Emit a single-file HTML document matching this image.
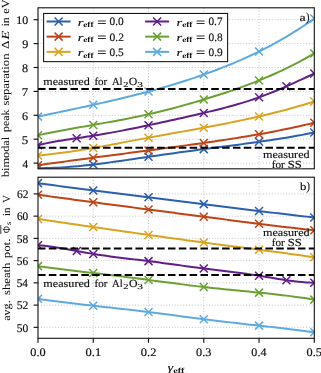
<!DOCTYPE html><html><head><meta charset="utf-8"><style>html,body{margin:0;padding:0;background:#fff;}svg{display:block;will-change:transform;}text{text-rendering:geometricPrecision;font-family:"Liberation Serif",serif;fill:#111;stroke:#111;stroke-width:0.16px;} g text{stroke-width:inherit}</style></head><body>
<svg width="321" height="373" viewBox="0 0 321 373">
<rect width="321" height="373" fill="#fff"/>
<defs><clipPath id="ct"><rect x="38.00" y="7.80" width="276.30" height="161.00"/></clipPath><clipPath id="cb"><rect x="38.00" y="177.20" width="276.30" height="161.10"/></clipPath></defs>
<g clip-path="url(#ct)">
<line x1="93.26" y1="7.80" x2="93.26" y2="168.80" stroke="#c2c2c2" stroke-width="1" stroke-dasharray="1 1.85" fill="none"/>
<line x1="148.52" y1="7.80" x2="148.52" y2="168.80" stroke="#c2c2c2" stroke-width="1" stroke-dasharray="1 1.85" fill="none"/>
<line x1="203.78" y1="7.80" x2="203.78" y2="168.80" stroke="#c2c2c2" stroke-width="1" stroke-dasharray="1 1.85" fill="none"/>
<line x1="259.04" y1="7.80" x2="259.04" y2="168.80" stroke="#c2c2c2" stroke-width="1" stroke-dasharray="1 1.85" fill="none"/>
<line x1="38.00" y1="163.10" x2="314.30" y2="163.10" stroke="#c2c2c2" stroke-width="1" stroke-dasharray="1 1.85" fill="none"/>
<line x1="38.00" y1="139.20" x2="314.30" y2="139.20" stroke="#c2c2c2" stroke-width="1" stroke-dasharray="1 1.85" fill="none"/>
<line x1="38.00" y1="115.30" x2="314.30" y2="115.30" stroke="#c2c2c2" stroke-width="1" stroke-dasharray="1 1.85" fill="none"/>
<line x1="38.00" y1="91.40" x2="314.30" y2="91.40" stroke="#c2c2c2" stroke-width="1" stroke-dasharray="1 1.85" fill="none"/>
<line x1="38.00" y1="67.50" x2="314.30" y2="67.50" stroke="#c2c2c2" stroke-width="1" stroke-dasharray="1 1.85" fill="none"/>
<line x1="38.00" y1="43.60" x2="314.30" y2="43.60" stroke="#c2c2c2" stroke-width="1" stroke-dasharray="1 1.85" fill="none"/>
<line x1="38.00" y1="19.70" x2="314.30" y2="19.70" stroke="#c2c2c2" stroke-width="1" stroke-dasharray="1 1.85" fill="none"/>
<path d="M38.00 168.22 L42.00 168.19 L46.01 168.11 L50.01 168.00 L54.02 167.84 L58.02 167.64 L62.03 167.41 L66.03 167.14 L70.03 166.84 L74.04 166.50 L78.04 166.14 L82.05 165.75 L86.05 165.33 L90.06 164.89 L94.06 164.43 L98.07 163.94 L102.07 163.44 L106.07 162.92 L110.08 162.38 L114.08 161.83 L118.09 161.27 L122.09 160.70 L126.10 160.12 L130.10 159.54 L134.10 158.95 L138.11 158.36 L142.11 157.76 L146.12 157.17 L150.12 156.59 L154.13 156.00 L158.13 155.42 L162.13 154.85 L166.14 154.27 L170.14 153.71 L174.15 153.14 L178.15 152.59 L182.16 152.03 L186.16 151.48 L190.17 150.94 L194.17 150.40 L198.17 149.86 L202.18 149.33 L206.18 148.80 L210.19 148.28 L214.19 147.76 L218.20 147.25 L222.20 146.73 L226.20 146.21 L230.21 145.69 L234.21 145.17 L238.22 144.65 L242.22 144.12 L246.23 143.58 L250.23 143.04 L254.23 142.49 L258.24 141.93 L262.24 141.36 L266.25 140.78 L270.25 140.19 L274.26 139.58 L278.26 138.96 L282.27 138.32 L286.27 137.67 L290.27 137.00 L294.28 136.30 L298.28 135.59 L302.29 134.86 L306.29 134.10 L310.30 133.32 L314.30 132.52" stroke="#2d5fab" stroke-width="2.00" fill="none" stroke-linejoin="round"/>
<path d="M34.00 164.22L42.00 172.22M34.00 172.22L42.00 164.22" stroke="#2d5fab" stroke-width="1.50" fill="none"/>
<path d="M89.26 160.52L97.26 168.52M89.26 168.52L97.26 160.52" stroke="#2d5fab" stroke-width="1.50" fill="none"/>
<path d="M144.52 152.82L152.52 160.82M144.52 160.82L152.52 152.82" stroke="#2d5fab" stroke-width="1.50" fill="none"/>
<path d="M199.78 145.12L207.78 153.12M199.78 153.12L207.78 145.12" stroke="#2d5fab" stroke-width="1.50" fill="none"/>
<path d="M255.04 137.82L263.04 145.82M255.04 145.82L263.04 137.82" stroke="#2d5fab" stroke-width="1.50" fill="none"/>
<path d="M310.30 128.52L318.30 136.52M310.30 136.52L318.30 128.52" stroke="#2d5fab" stroke-width="1.50" fill="none"/>
<path d="M38.00 165.22 L42.00 164.66 L46.01 164.11 L50.01 163.56 L54.02 163.01 L58.02 162.46 L62.03 161.92 L66.03 161.37 L70.03 160.83 L74.04 160.29 L78.04 159.75 L82.05 159.22 L86.05 158.68 L90.06 158.15 L94.06 157.61 L98.07 157.08 L102.07 156.55 L106.07 156.02 L110.08 155.49 L114.08 154.96 L118.09 154.43 L122.09 153.90 L126.10 153.38 L130.10 152.85 L134.10 152.32 L138.11 151.79 L142.11 151.27 L146.12 150.74 L150.12 150.21 L154.13 149.68 L158.13 149.15 L162.13 148.62 L166.14 148.09 L170.14 147.55 L174.15 147.01 L178.15 146.47 L182.16 145.93 L186.16 145.38 L190.17 144.83 L194.17 144.27 L198.17 143.71 L202.18 143.15 L206.18 142.58 L210.19 142.00 L214.19 141.42 L218.20 140.82 L222.20 140.22 L226.20 139.62 L230.21 139.00 L234.21 138.37 L238.22 137.73 L242.22 137.09 L246.23 136.42 L250.23 135.75 L254.23 135.06 L258.24 134.36 L262.24 133.65 L266.25 132.92 L270.25 132.17 L274.26 131.41 L278.26 130.63 L282.27 129.83 L286.27 129.01 L290.27 128.17 L294.28 127.32 L298.28 126.44 L302.29 125.55 L306.29 124.63 L310.30 123.68 L314.30 122.72" stroke="#bc4418" stroke-width="2.00" fill="none" stroke-linejoin="round"/>
<path d="M34.00 161.22L42.00 169.22M34.00 169.22L42.00 161.22" stroke="#bc4418" stroke-width="1.50" fill="none"/>
<path d="M89.26 153.72L97.26 161.72M89.26 161.72L97.26 153.72" stroke="#bc4418" stroke-width="1.50" fill="none"/>
<path d="M144.52 146.42L152.52 154.42M144.52 154.42L152.52 146.42" stroke="#bc4418" stroke-width="1.50" fill="none"/>
<path d="M199.78 138.92L207.78 146.92M199.78 146.92L207.78 138.92" stroke="#bc4418" stroke-width="1.50" fill="none"/>
<path d="M255.04 130.22L263.04 138.22M255.04 138.22L263.04 130.22" stroke="#bc4418" stroke-width="1.50" fill="none"/>
<path d="M310.30 118.72L318.30 126.72M310.30 126.72L318.30 118.72" stroke="#bc4418" stroke-width="1.50" fill="none"/>
<path d="M38.00 155.52 L42.00 155.15 L46.01 154.74 L50.01 154.30 L54.02 153.83 L58.02 153.33 L62.03 152.81 L66.03 152.25 L70.03 151.68 L74.04 151.07 L78.04 150.45 L82.05 149.81 L86.05 149.15 L90.06 148.47 L94.06 147.78 L98.07 147.07 L102.07 146.36 L106.07 145.63 L110.08 144.89 L114.08 144.15 L118.09 143.40 L122.09 142.64 L126.10 141.88 L130.10 141.13 L134.10 140.37 L138.11 139.61 L142.11 138.86 L146.12 138.11 L150.12 137.38 L154.13 136.64 L158.13 135.92 L162.13 135.20 L166.14 134.48 L170.14 133.76 L174.15 133.05 L178.15 132.34 L182.16 131.63 L186.16 130.91 L190.17 130.20 L194.17 129.47 L198.17 128.75 L202.18 128.02 L206.18 127.28 L210.19 126.53 L214.19 125.77 L218.20 125.00 L222.20 124.22 L226.20 123.43 L230.21 122.63 L234.21 121.82 L238.22 120.99 L242.22 120.14 L246.23 119.28 L250.23 118.41 L254.23 117.52 L258.24 116.60 L262.24 115.67 L266.25 114.73 L270.25 113.76 L274.26 112.77 L278.26 111.75 L282.27 110.72 L286.27 109.66 L290.27 108.58 L294.28 107.47 L298.28 106.33 L302.29 105.17 L306.29 103.98 L310.30 102.77 L314.30 101.52" stroke="#d9a423" stroke-width="2.00" fill="none" stroke-linejoin="round"/>
<path d="M34.00 151.52L42.00 159.52M34.00 159.52L42.00 151.52" stroke="#d9a423" stroke-width="1.50" fill="none"/>
<path d="M89.26 143.92L97.26 151.92M89.26 151.92L97.26 143.92" stroke="#d9a423" stroke-width="1.50" fill="none"/>
<path d="M144.52 133.67L152.52 141.67M144.52 141.67L152.52 133.67" stroke="#d9a423" stroke-width="1.50" fill="none"/>
<path d="M199.78 123.72L207.78 131.72M199.78 131.72L207.78 123.72" stroke="#d9a423" stroke-width="1.50" fill="none"/>
<path d="M255.04 112.42L263.04 120.42M255.04 120.42L263.04 112.42" stroke="#d9a423" stroke-width="1.50" fill="none"/>
<path d="M310.30 97.52L318.30 105.52M310.30 105.52L318.30 97.52" stroke="#d9a423" stroke-width="1.50" fill="none"/>
<path d="M38.00 145.22 L42.00 144.27 L46.01 143.39 L50.01 142.57 L54.02 141.81 L58.02 141.10 L62.03 140.43 L66.03 139.79 L70.03 139.17 L74.04 138.58 L78.04 137.99 L82.05 137.41 L86.05 136.82 L90.06 136.22 L94.06 135.59 L98.07 134.95 L102.07 134.28 L106.07 133.58 L110.08 132.87 L114.08 132.13 L118.09 131.38 L122.09 130.61 L126.10 129.83 L130.10 129.03 L134.10 128.22 L138.11 127.40 L142.11 126.56 L146.12 125.73 L150.12 124.88 L154.13 124.03 L158.13 123.17 L162.13 122.31 L166.14 121.44 L170.14 120.57 L174.15 119.69 L178.15 118.80 L182.16 117.90 L186.16 117.00 L190.17 116.09 L194.17 115.16 L198.17 114.24 L202.18 113.30 L206.18 112.35 L210.19 111.39 L214.19 110.42 L218.20 109.42 L222.20 108.41 L226.20 107.37 L230.21 106.29 L234.21 105.19 L238.22 104.04 L242.22 102.85 L246.23 101.62 L250.23 100.34 L254.23 99.00 L258.24 97.61 L262.24 96.15 L266.25 94.64 L270.25 93.07 L274.26 91.46 L278.26 89.80 L282.27 88.10 L286.27 86.36 L290.27 84.59 L294.28 82.79 L298.28 80.96 L302.29 79.12 L306.29 77.26 L310.30 75.40 L314.30 73.52" stroke="#611f87" stroke-width="2.00" fill="none" stroke-linejoin="round"/>
<path d="M34.00 141.22L42.00 149.22M34.00 149.22L42.00 141.22" stroke="#611f87" stroke-width="1.50" fill="none"/>
<path d="M89.26 131.72L97.26 139.72M89.26 139.72L97.26 131.72" stroke="#611f87" stroke-width="1.50" fill="none"/>
<path d="M144.52 121.22L152.52 129.22M144.52 129.22L152.52 121.22" stroke="#611f87" stroke-width="1.50" fill="none"/>
<path d="M199.78 108.92L207.78 116.92M199.78 116.92L207.78 108.92" stroke="#611f87" stroke-width="1.50" fill="none"/>
<path d="M255.04 93.32L263.04 101.32M255.04 101.32L263.04 93.32" stroke="#611f87" stroke-width="1.50" fill="none"/>
<path d="M310.30 69.52L318.30 77.52M310.30 77.52L318.30 69.52" stroke="#611f87" stroke-width="1.50" fill="none"/>
<path d="M72.60 134.20L80.60 142.20M72.60 142.20L80.60 134.20" stroke="#611f87" stroke-width="1.50" fill="none"/>
<path d="M282.40 82.30L290.40 90.30M282.40 90.30L290.40 82.30" stroke="#611f87" stroke-width="1.50" fill="none"/>
<path d="M38.00 135.22 L42.00 134.39 L46.01 133.57 L50.01 132.78 L54.02 132.00 L58.02 131.24 L62.03 130.49 L66.03 129.76 L70.03 129.03 L74.04 128.31 L78.04 127.60 L82.05 126.89 L86.05 126.19 L90.06 125.48 L94.06 124.78 L98.07 124.07 L102.07 123.36 L106.07 122.64 L110.08 121.92 L114.08 121.19 L118.09 120.44 L122.09 119.68 L126.10 118.91 L130.10 118.12 L134.10 117.31 L138.11 116.48 L142.11 115.63 L146.12 114.76 L150.12 113.86 L154.13 112.93 L158.13 111.98 L162.13 111.00 L166.14 110.00 L170.14 108.98 L174.15 107.93 L178.15 106.86 L182.16 105.77 L186.16 104.65 L190.17 103.52 L194.17 102.37 L198.17 101.19 L202.18 100.00 L206.18 98.79 L210.19 97.56 L214.19 96.32 L218.20 95.05 L222.20 93.75 L226.20 92.43 L230.21 91.08 L234.21 89.71 L238.22 88.30 L242.22 86.86 L246.23 85.39 L250.23 83.88 L254.23 82.33 L258.24 80.74 L262.24 79.11 L266.25 77.44 L270.25 75.73 L274.26 73.97 L278.26 72.16 L282.27 70.30 L286.27 68.39 L290.27 66.42 L294.28 64.40 L298.28 62.33 L302.29 60.19 L306.29 58.00 L310.30 55.74 L314.30 53.42" stroke="#6ca034" stroke-width="2.00" fill="none" stroke-linejoin="round"/>
<path d="M34.00 131.22L42.00 139.22M34.00 139.22L42.00 131.22" stroke="#6ca034" stroke-width="1.50" fill="none"/>
<path d="M89.26 120.92L97.26 128.92M89.26 128.92L97.26 120.92" stroke="#6ca034" stroke-width="1.50" fill="none"/>
<path d="M144.52 110.22L152.52 118.22M144.52 118.22L152.52 110.22" stroke="#6ca034" stroke-width="1.50" fill="none"/>
<path d="M199.78 95.52L207.78 103.52M199.78 103.52L207.78 95.52" stroke="#6ca034" stroke-width="1.50" fill="none"/>
<path d="M255.04 76.42L263.04 84.42M255.04 84.42L263.04 76.42" stroke="#6ca034" stroke-width="1.50" fill="none"/>
<path d="M310.30 49.42L318.30 57.42M310.30 57.42L318.30 49.42" stroke="#6ca034" stroke-width="1.50" fill="none"/>
<path d="M38.00 116.62 L42.00 115.77 L46.01 114.92 L50.01 114.07 L54.02 113.22 L58.02 112.37 L62.03 111.53 L66.03 110.68 L70.03 109.83 L74.04 108.98 L78.04 108.12 L82.05 107.26 L86.05 106.40 L90.06 105.52 L94.06 104.64 L98.07 103.76 L102.07 102.86 L106.07 101.95 L110.08 101.04 L114.08 100.11 L118.09 99.17 L122.09 98.21 L126.10 97.24 L130.10 96.26 L134.10 95.26 L138.11 94.25 L142.11 93.21 L146.12 92.16 L150.12 91.09 L154.13 90.00 L158.13 88.89 L162.13 87.75 L166.14 86.60 L170.14 85.42 L174.15 84.21 L178.15 82.99 L182.16 81.74 L186.16 80.46 L190.17 79.16 L194.17 77.83 L198.17 76.47 L202.18 75.08 L206.18 73.67 L210.19 72.22 L214.19 70.75 L218.20 69.24 L222.20 67.69 L226.20 66.11 L230.21 64.49 L234.21 62.82 L238.22 61.12 L242.22 59.37 L246.23 57.58 L250.23 55.74 L254.23 53.85 L258.24 51.91 L262.24 49.92 L266.25 47.88 L270.25 45.78 L274.26 43.62 L278.26 41.40 L282.27 39.13 L286.27 36.79 L290.27 34.38 L294.28 31.91 L298.28 29.38 L302.29 26.77 L306.29 24.09 L310.30 21.34 L314.30 18.52" stroke="#5fa9e0" stroke-width="2.00" fill="none" stroke-linejoin="round"/>
<path d="M34.00 112.62L42.00 120.62M34.00 120.62L42.00 112.62" stroke="#5fa9e0" stroke-width="1.50" fill="none"/>
<path d="M89.26 100.82L97.26 108.82M89.26 108.82L97.26 100.82" stroke="#5fa9e0" stroke-width="1.50" fill="none"/>
<path d="M144.52 87.52L152.52 95.52M144.52 95.52L152.52 87.52" stroke="#5fa9e0" stroke-width="1.50" fill="none"/>
<path d="M199.78 70.52L207.78 78.52M199.78 78.52L207.78 70.52" stroke="#5fa9e0" stroke-width="1.50" fill="none"/>
<path d="M255.04 47.52L263.04 55.52M255.04 55.52L263.04 47.52" stroke="#5fa9e0" stroke-width="1.50" fill="none"/>
<path d="M310.30 14.52L318.30 22.52M310.30 22.52L318.30 14.52" stroke="#5fa9e0" stroke-width="1.50" fill="none"/>
<line x1="38.00" y1="88.90" x2="314.30" y2="88.90" stroke="#000" stroke-width="2" stroke-dasharray="7.55 3.28"/>
<line x1="38.00" y1="147.85" x2="314.30" y2="147.85" stroke="#000" stroke-width="2" stroke-dasharray="7.55 3.28"/>
</g>
<g clip-path="url(#cb)">
<line x1="93.26" y1="177.20" x2="93.26" y2="338.30" stroke="#c2c2c2" stroke-width="1" stroke-dasharray="1 1.85" fill="none"/>
<line x1="148.52" y1="177.20" x2="148.52" y2="338.30" stroke="#c2c2c2" stroke-width="1" stroke-dasharray="1 1.85" fill="none"/>
<line x1="203.78" y1="177.20" x2="203.78" y2="338.30" stroke="#c2c2c2" stroke-width="1" stroke-dasharray="1 1.85" fill="none"/>
<line x1="259.04" y1="177.20" x2="259.04" y2="338.30" stroke="#c2c2c2" stroke-width="1" stroke-dasharray="1 1.85" fill="none"/>
<line x1="38.00" y1="327.34" x2="314.30" y2="327.34" stroke="#c2c2c2" stroke-width="1" stroke-dasharray="1 1.85" fill="none"/>
<line x1="38.00" y1="305.10" x2="314.30" y2="305.10" stroke="#c2c2c2" stroke-width="1" stroke-dasharray="1 1.85" fill="none"/>
<line x1="38.00" y1="282.86" x2="314.30" y2="282.86" stroke="#c2c2c2" stroke-width="1" stroke-dasharray="1 1.85" fill="none"/>
<line x1="38.00" y1="260.62" x2="314.30" y2="260.62" stroke="#c2c2c2" stroke-width="1" stroke-dasharray="1 1.85" fill="none"/>
<line x1="38.00" y1="238.38" x2="314.30" y2="238.38" stroke="#c2c2c2" stroke-width="1" stroke-dasharray="1 1.85" fill="none"/>
<line x1="38.00" y1="216.14" x2="314.30" y2="216.14" stroke="#c2c2c2" stroke-width="1" stroke-dasharray="1 1.85" fill="none"/>
<line x1="38.00" y1="193.90" x2="314.30" y2="193.90" stroke="#c2c2c2" stroke-width="1" stroke-dasharray="1 1.85" fill="none"/>
<path d="M38.00 183.12 L42.00 183.68 L46.01 184.24 L50.01 184.79 L54.02 185.33 L58.02 185.87 L62.03 186.40 L66.03 186.93 L70.03 187.46 L74.04 187.98 L78.04 188.49 L82.05 189.00 L86.05 189.51 L90.06 190.02 L94.06 190.52 L98.07 191.02 L102.07 191.52 L106.07 192.01 L110.08 192.51 L114.08 193.00 L118.09 193.49 L122.09 193.98 L126.10 194.47 L130.10 194.96 L134.10 195.45 L138.11 195.94 L142.11 196.43 L146.12 196.92 L150.12 197.42 L154.13 197.91 L158.13 198.41 L162.13 198.90 L166.14 199.40 L170.14 199.90 L174.15 200.40 L178.15 200.90 L182.16 201.40 L186.16 201.91 L190.17 202.41 L194.17 202.91 L198.17 203.41 L202.18 203.92 L206.18 204.42 L210.19 204.93 L214.19 205.43 L218.20 205.93 L222.20 206.44 L226.20 206.94 L230.21 207.44 L234.21 207.94 L238.22 208.44 L242.22 208.94 L246.23 209.44 L250.23 209.94 L254.23 210.43 L258.24 210.92 L262.24 211.41 L266.25 211.90 L270.25 212.39 L274.26 212.87 L278.26 213.35 L282.27 213.83 L286.27 214.30 L290.27 214.77 L294.28 215.24 L298.28 215.70 L302.29 216.16 L306.29 216.62 L310.30 217.07 L314.30 217.52" stroke="#2d5fab" stroke-width="2.00" fill="none" stroke-linejoin="round"/>
<path d="M34.00 179.12L42.00 187.12M34.00 187.12L42.00 179.12" stroke="#2d5fab" stroke-width="1.50" fill="none"/>
<path d="M89.26 186.42L97.26 194.42M89.26 194.42L97.26 186.42" stroke="#2d5fab" stroke-width="1.50" fill="none"/>
<path d="M144.52 193.22L152.52 201.22M144.52 201.22L152.52 193.22" stroke="#2d5fab" stroke-width="1.50" fill="none"/>
<path d="M199.78 200.12L207.78 208.12M199.78 208.12L207.78 200.12" stroke="#2d5fab" stroke-width="1.50" fill="none"/>
<path d="M255.04 207.02L263.04 215.02M255.04 215.02L263.04 207.02" stroke="#2d5fab" stroke-width="1.50" fill="none"/>
<path d="M310.30 213.52L318.30 221.52M310.30 221.52L318.30 213.52" stroke="#2d5fab" stroke-width="1.50" fill="none"/>
<path d="M38.00 194.72 L42.00 195.27 L46.01 195.82 L50.01 196.37 L54.02 196.92 L58.02 197.47 L62.03 198.01 L66.03 198.56 L70.03 199.10 L74.04 199.64 L78.04 200.18 L82.05 200.72 L86.05 201.26 L90.06 201.79 L94.06 202.33 L98.07 202.86 L102.07 203.39 L106.07 203.93 L110.08 204.46 L114.08 204.99 L118.09 205.52 L122.09 206.05 L126.10 206.58 L130.10 207.10 L134.10 207.63 L138.11 208.16 L142.11 208.68 L146.12 209.21 L150.12 209.73 L154.13 210.25 L158.13 210.78 L162.13 211.30 L166.14 211.82 L170.14 212.34 L174.15 212.86 L178.15 213.39 L182.16 213.91 L186.16 214.43 L190.17 214.95 L194.17 215.47 L198.17 215.99 L202.18 216.51 L206.18 217.03 L210.19 217.55 L214.19 218.07 L218.20 218.59 L222.20 219.11 L226.20 219.63 L230.21 220.15 L234.21 220.67 L238.22 221.18 L242.22 221.69 L246.23 222.20 L250.23 222.71 L254.23 223.22 L258.24 223.72 L262.24 224.22 L266.25 224.72 L270.25 225.21 L274.26 225.70 L278.26 226.18 L282.27 226.66 L286.27 227.14 L290.27 227.61 L294.28 228.07 L298.28 228.53 L302.29 228.99 L306.29 229.44 L310.30 229.88 L314.30 230.32" stroke="#bc4418" stroke-width="2.00" fill="none" stroke-linejoin="round"/>
<path d="M34.00 190.72L42.00 198.72M34.00 198.72L42.00 190.72" stroke="#bc4418" stroke-width="1.50" fill="none"/>
<path d="M89.26 198.22L97.26 206.22M89.26 206.22L97.26 198.22" stroke="#bc4418" stroke-width="1.50" fill="none"/>
<path d="M144.52 205.52L152.52 213.52M144.52 213.52L152.52 205.52" stroke="#bc4418" stroke-width="1.50" fill="none"/>
<path d="M199.78 212.72L207.78 220.72M199.78 220.72L207.78 212.72" stroke="#bc4418" stroke-width="1.50" fill="none"/>
<path d="M255.04 219.82L263.04 227.82M255.04 227.82L263.04 219.82" stroke="#bc4418" stroke-width="1.50" fill="none"/>
<path d="M310.30 226.32L318.30 234.32M310.30 234.32L318.30 226.32" stroke="#bc4418" stroke-width="1.50" fill="none"/>
<path d="M38.00 219.02 L42.00 219.60 L46.01 220.18 L50.01 220.76 L54.02 221.34 L58.02 221.92 L62.03 222.50 L66.03 223.08 L70.03 223.66 L74.04 224.24 L78.04 224.82 L82.05 225.40 L86.05 225.98 L90.06 226.56 L94.06 227.14 L98.07 227.71 L102.07 228.29 L106.07 228.87 L110.08 229.44 L114.08 230.02 L118.09 230.59 L122.09 231.16 L126.10 231.74 L130.10 232.31 L134.10 232.88 L138.11 233.45 L142.11 234.01 L146.12 234.58 L150.12 235.15 L154.13 235.71 L158.13 236.27 L162.13 236.83 L166.14 237.39 L170.14 237.95 L174.15 238.50 L178.15 239.05 L182.16 239.60 L186.16 240.15 L190.17 240.69 L194.17 241.23 L198.17 241.77 L202.18 242.31 L206.18 242.84 L210.19 243.37 L214.19 243.89 L218.20 244.42 L222.20 244.94 L226.20 245.46 L230.21 245.98 L234.21 246.50 L238.22 247.02 L242.22 247.53 L246.23 248.05 L250.23 248.57 L254.23 249.09 L258.24 249.62 L262.24 250.14 L266.25 250.67 L270.25 251.20 L274.26 251.73 L278.26 252.27 L282.27 252.81 L286.27 253.35 L290.27 253.90 L294.28 254.46 L298.28 255.02 L302.29 255.58 L306.29 256.15 L310.30 256.73 L314.30 257.32" stroke="#d9a423" stroke-width="2.00" fill="none" stroke-linejoin="round"/>
<path d="M34.00 215.02L42.00 223.02M34.00 223.02L42.00 215.02" stroke="#d9a423" stroke-width="1.50" fill="none"/>
<path d="M89.26 223.02L97.26 231.02M89.26 231.02L97.26 223.02" stroke="#d9a423" stroke-width="1.50" fill="none"/>
<path d="M144.52 230.92L152.52 238.92M144.52 238.92L152.52 230.92" stroke="#d9a423" stroke-width="1.50" fill="none"/>
<path d="M199.78 238.52L207.78 246.52M199.78 246.52L207.78 238.52" stroke="#d9a423" stroke-width="1.50" fill="none"/>
<path d="M255.04 245.72L263.04 253.72M255.04 253.72L263.04 245.72" stroke="#d9a423" stroke-width="1.50" fill="none"/>
<path d="M310.30 253.32L318.30 261.32M310.30 261.32L318.30 253.32" stroke="#d9a423" stroke-width="1.50" fill="none"/>
<path d="M38.00 245.22 L42.00 245.58 L46.01 246.02 L50.01 246.52 L54.02 247.09 L58.02 247.70 L62.03 248.36 L66.03 249.05 L70.03 249.76 L74.04 250.49 L78.04 251.23 L82.05 251.96 L86.05 252.68 L90.06 253.38 L94.06 254.05 L98.07 254.69 L102.07 255.29 L106.07 255.86 L110.08 256.41 L114.08 256.94 L118.09 257.45 L122.09 257.94 L126.10 258.43 L130.10 258.90 L134.10 259.38 L138.11 259.85 L142.11 260.33 L146.12 260.82 L150.12 261.32 L154.13 261.83 L158.13 262.36 L162.13 262.89 L166.14 263.43 L170.14 263.98 L174.15 264.53 L178.15 265.08 L182.16 265.63 L186.16 266.18 L190.17 266.73 L194.17 267.26 L198.17 267.79 L202.18 268.32 L206.18 268.82 L210.19 269.32 L214.19 269.81 L218.20 270.30 L222.20 270.78 L226.20 271.27 L230.21 271.76 L234.21 272.26 L238.22 272.77 L242.22 273.29 L246.23 273.83 L250.23 274.39 L254.23 274.98 L258.24 275.59 L262.24 276.24 L266.25 276.90 L270.25 277.58 L274.26 278.25 L278.26 278.92 L282.27 279.57 L286.27 280.18 L290.27 280.75 L294.28 281.27 L298.28 281.73 L302.29 282.12 L306.29 282.42 L310.30 282.62 L314.30 282.72" stroke="#611f87" stroke-width="2.00" fill="none" stroke-linejoin="round"/>
<path d="M34.00 241.22L42.00 249.22M34.00 249.22L42.00 241.22" stroke="#611f87" stroke-width="1.50" fill="none"/>
<path d="M89.26 249.92L97.26 257.92M89.26 257.92L97.26 249.92" stroke="#611f87" stroke-width="1.50" fill="none"/>
<path d="M144.52 257.12L152.52 265.12M144.52 265.12L152.52 257.12" stroke="#611f87" stroke-width="1.50" fill="none"/>
<path d="M199.78 264.52L207.78 272.52M199.78 272.52L207.78 264.52" stroke="#611f87" stroke-width="1.50" fill="none"/>
<path d="M255.04 271.72L263.04 279.72M255.04 279.72L263.04 271.72" stroke="#611f87" stroke-width="1.50" fill="none"/>
<path d="M310.30 278.72L318.30 286.72M310.30 286.72L318.30 278.72" stroke="#611f87" stroke-width="1.50" fill="none"/>
<path d="M72.80 247.00L80.80 255.00M72.80 255.00L80.80 247.00" stroke="#611f87" stroke-width="1.50" fill="none"/>
<path d="M282.40 276.20L290.40 284.20M282.40 284.20L290.40 276.20" stroke="#611f87" stroke-width="1.50" fill="none"/>
<path d="M38.00 266.12 L42.00 266.64 L46.01 267.16 L50.01 267.67 L54.02 268.18 L58.02 268.68 L62.03 269.18 L66.03 269.68 L70.03 270.18 L74.04 270.67 L78.04 271.16 L82.05 271.65 L86.05 272.14 L90.06 272.63 L94.06 273.12 L98.07 273.61 L102.07 274.09 L106.07 274.58 L110.08 275.07 L114.08 275.57 L118.09 276.06 L122.09 276.56 L126.10 277.06 L130.10 277.56 L134.10 278.06 L138.11 278.57 L142.11 279.09 L146.12 279.61 L150.12 280.13 L154.13 280.66 L158.13 281.19 L162.13 281.72 L166.14 282.26 L170.14 282.79 L174.15 283.32 L178.15 283.85 L182.16 284.37 L186.16 284.88 L190.17 285.39 L194.17 285.88 L198.17 286.37 L202.18 286.84 L206.18 287.29 L210.19 287.73 L214.19 288.16 L218.20 288.58 L222.20 288.99 L226.20 289.40 L230.21 289.79 L234.21 290.19 L238.22 290.57 L242.22 290.96 L246.23 291.35 L250.23 291.74 L254.23 292.14 L258.24 292.54 L262.24 292.95 L266.25 293.36 L270.25 293.79 L274.26 294.23 L278.26 294.68 L282.27 295.15 L286.27 295.63 L290.27 296.13 L294.28 296.65 L298.28 297.20 L302.29 297.76 L306.29 298.36 L310.30 298.97 L314.30 299.62" stroke="#6ca034" stroke-width="2.00" fill="none" stroke-linejoin="round"/>
<path d="M34.00 262.12L42.00 270.12M34.00 270.12L42.00 262.12" stroke="#6ca034" stroke-width="1.50" fill="none"/>
<path d="M89.26 269.02L97.26 277.02M89.26 277.02L97.26 269.02" stroke="#6ca034" stroke-width="1.50" fill="none"/>
<path d="M144.52 275.92L152.52 283.92M144.52 283.92L152.52 275.92" stroke="#6ca034" stroke-width="1.50" fill="none"/>
<path d="M199.78 283.02L207.78 291.02M199.78 291.02L207.78 283.02" stroke="#6ca034" stroke-width="1.50" fill="none"/>
<path d="M255.04 288.62L263.04 296.62M255.04 296.62L263.04 288.62" stroke="#6ca034" stroke-width="1.50" fill="none"/>
<path d="M310.30 295.62L318.30 303.62M310.30 303.62L318.30 295.62" stroke="#6ca034" stroke-width="1.50" fill="none"/>
<path d="M38.00 298.82 L42.00 299.39 L46.01 299.95 L50.01 300.50 L54.02 301.03 L58.02 301.55 L62.03 302.06 L66.03 302.55 L70.03 303.04 L74.04 303.52 L78.04 303.99 L82.05 304.45 L86.05 304.91 L90.06 305.36 L94.06 305.81 L98.07 306.26 L102.07 306.70 L106.07 307.14 L110.08 307.58 L114.08 308.03 L118.09 308.47 L122.09 308.92 L126.10 309.37 L130.10 309.83 L134.10 310.29 L138.11 310.76 L142.11 311.24 L146.12 311.72 L150.12 312.22 L154.13 312.72 L158.13 313.24 L162.13 313.76 L166.14 314.28 L170.14 314.81 L174.15 315.34 L178.15 315.87 L182.16 316.41 L186.16 316.94 L190.17 317.47 L194.17 317.99 L198.17 318.51 L202.18 319.02 L206.18 319.52 L210.19 320.01 L214.19 320.50 L218.20 320.98 L222.20 321.45 L226.20 321.92 L230.21 322.38 L234.21 322.84 L238.22 323.29 L242.22 323.74 L246.23 324.19 L250.23 324.64 L254.23 325.08 L258.24 325.53 L262.24 325.98 L266.25 326.43 L270.25 326.88 L274.26 327.34 L278.26 327.79 L282.27 328.26 L286.27 328.73 L290.27 329.20 L294.28 329.68 L298.28 330.17 L302.29 330.67 L306.29 331.18 L310.30 331.69 L314.30 332.22" stroke="#5fa9e0" stroke-width="2.00" fill="none" stroke-linejoin="round"/>
<path d="M34.00 294.82L42.00 302.82M34.00 302.82L42.00 294.82" stroke="#5fa9e0" stroke-width="1.50" fill="none"/>
<path d="M89.26 301.72L97.26 309.72M89.26 309.72L97.26 301.72" stroke="#5fa9e0" stroke-width="1.50" fill="none"/>
<path d="M144.52 308.02L152.52 316.02M144.52 316.02L152.52 308.02" stroke="#5fa9e0" stroke-width="1.50" fill="none"/>
<path d="M199.78 315.22L207.78 323.22M199.78 323.22L207.78 315.22" stroke="#5fa9e0" stroke-width="1.50" fill="none"/>
<path d="M255.04 321.62L263.04 329.62M255.04 329.62L263.04 321.62" stroke="#5fa9e0" stroke-width="1.50" fill="none"/>
<path d="M310.30 328.22L318.30 336.22M310.30 336.22L318.30 328.22" stroke="#5fa9e0" stroke-width="1.50" fill="none"/>
<line x1="38.00" y1="248.50" x2="314.30" y2="248.50" stroke="#000" stroke-width="2" stroke-dasharray="7.55 3.28"/>
<line x1="38.00" y1="275.05" x2="314.30" y2="275.05" stroke="#000" stroke-width="2" stroke-dasharray="7.55 3.28"/>
</g>
<rect x="38.00" y="7.80" width="276.30" height="161.00" stroke="#111" stroke-width="1.1" fill="none"/>
<rect x="38.00" y="177.20" width="276.30" height="161.10" stroke="#111" stroke-width="1.1" fill="none"/>
<line x1="33.60" y1="163.10" x2="38.00" y2="163.10" stroke="#111" stroke-width="1.15"/>
<line x1="33.60" y1="139.20" x2="38.00" y2="139.20" stroke="#111" stroke-width="1.15"/>
<line x1="33.60" y1="115.30" x2="38.00" y2="115.30" stroke="#111" stroke-width="1.15"/>
<line x1="33.60" y1="91.40" x2="38.00" y2="91.40" stroke="#111" stroke-width="1.15"/>
<line x1="33.60" y1="67.50" x2="38.00" y2="67.50" stroke="#111" stroke-width="1.15"/>
<line x1="33.60" y1="43.60" x2="38.00" y2="43.60" stroke="#111" stroke-width="1.15"/>
<line x1="33.60" y1="19.70" x2="38.00" y2="19.70" stroke="#111" stroke-width="1.15"/>
<line x1="33.60" y1="327.34" x2="38.00" y2="327.34" stroke="#111" stroke-width="1.15"/>
<line x1="33.60" y1="305.10" x2="38.00" y2="305.10" stroke="#111" stroke-width="1.15"/>
<line x1="33.60" y1="282.86" x2="38.00" y2="282.86" stroke="#111" stroke-width="1.15"/>
<line x1="33.60" y1="260.62" x2="38.00" y2="260.62" stroke="#111" stroke-width="1.15"/>
<line x1="33.60" y1="238.38" x2="38.00" y2="238.38" stroke="#111" stroke-width="1.15"/>
<line x1="33.60" y1="216.14" x2="38.00" y2="216.14" stroke="#111" stroke-width="1.15"/>
<line x1="33.60" y1="193.90" x2="38.00" y2="193.90" stroke="#111" stroke-width="1.15"/>
<line x1="38.00" y1="338.30" x2="38.00" y2="342.70" stroke="#111" stroke-width="1.15"/>
<line x1="93.26" y1="338.30" x2="93.26" y2="342.70" stroke="#111" stroke-width="1.15"/>
<line x1="148.52" y1="338.30" x2="148.52" y2="342.70" stroke="#111" stroke-width="1.15"/>
<line x1="203.78" y1="338.30" x2="203.78" y2="342.70" stroke="#111" stroke-width="1.15"/>
<line x1="259.04" y1="338.30" x2="259.04" y2="342.70" stroke="#111" stroke-width="1.15"/>
<line x1="314.30" y1="338.30" x2="314.30" y2="342.70" stroke="#111" stroke-width="1.15"/>
<text x="22.38" y="167.50" font-size="11.70" textLength="5.59" lengthAdjust="spacingAndGlyphs" style="stroke-width:0.18px">4</text>
<text x="21.85" y="143.52" font-size="11.70" textLength="6.45" lengthAdjust="spacingAndGlyphs" style="stroke-width:0.18px">5</text>
<text x="22.08" y="119.67" font-size="11.70" textLength="6.09" lengthAdjust="spacingAndGlyphs" style="stroke-width:0.18px">6</text>
<text x="21.75" y="95.78" font-size="11.70" textLength="6.42" lengthAdjust="spacingAndGlyphs" style="stroke-width:0.18px">7</text>
<text x="22.13" y="71.88" font-size="11.70" textLength="6.13" lengthAdjust="spacingAndGlyphs" style="stroke-width:0.18px">8</text>
<text x="22.21" y="47.97" font-size="11.70" textLength="6.09" lengthAdjust="spacingAndGlyphs" style="stroke-width:0.18px">9</text>
<text x="16.35" y="24.08" font-size="11.70" textLength="11.90" lengthAdjust="spacingAndGlyphs" style="stroke-width:0.18px">10</text>
<text x="16.73" y="331.62" font-size="11.70" textLength="11.51" lengthAdjust="spacingAndGlyphs" style="stroke-width:0.18px">50</text>
<text x="16.72" y="309.37" font-size="11.70" textLength="11.73" lengthAdjust="spacingAndGlyphs" style="stroke-width:0.18px">52</text>
<text x="16.75" y="287.10" font-size="11.70" textLength="11.23" lengthAdjust="spacingAndGlyphs" style="stroke-width:0.18px">54</text>
<text x="16.74" y="264.89" font-size="11.70" textLength="11.40" lengthAdjust="spacingAndGlyphs" style="stroke-width:0.18px">56</text>
<text x="16.73" y="242.66" font-size="11.70" textLength="11.51" lengthAdjust="spacingAndGlyphs" style="stroke-width:0.18px">58</text>
<text x="16.91" y="220.42" font-size="11.70" textLength="11.32" lengthAdjust="spacingAndGlyphs" style="stroke-width:0.18px">60</text>
<text x="16.90" y="198.17" font-size="11.70" textLength="11.53" lengthAdjust="spacingAndGlyphs" style="stroke-width:0.18px">62</text>
<text x="30.33" y="355.70" font-size="11.70" textLength="15.33" lengthAdjust="spacingAndGlyphs" style="stroke-width:0.18px">0.0</text>
<text x="85.58" y="355.70" font-size="11.70" textLength="15.63" lengthAdjust="spacingAndGlyphs" style="stroke-width:0.18px">0.1</text>
<text x="140.85" y="355.70" font-size="11.70" textLength="15.56" lengthAdjust="spacingAndGlyphs" style="stroke-width:0.18px">0.2</text>
<text x="196.11" y="355.70" font-size="11.70" textLength="15.35" lengthAdjust="spacingAndGlyphs" style="stroke-width:0.18px">0.3</text>
<text x="251.38" y="355.70" font-size="11.70" textLength="15.05" lengthAdjust="spacingAndGlyphs" style="stroke-width:0.18px">0.4</text>
<text x="306.63" y="355.70" font-size="11.70" textLength="15.35" lengthAdjust="spacingAndGlyphs" style="stroke-width:0.18px">0.5</text>
<text x="299.61" y="20.90" font-size="10.80" textLength="6.18" lengthAdjust="spacingAndGlyphs">a</text>
<text x="305.96" y="20.50" font-size="12.30" textLength="3.50" lengthAdjust="spacingAndGlyphs">)</text>
<text x="300.10" y="190.00" font-size="10.80" textLength="6.39" lengthAdjust="spacingAndGlyphs">b</text>
<text x="306.46" y="190.20" font-size="12.30" textLength="3.50" lengthAdjust="spacingAndGlyphs">)</text>
<text x="43.24" y="85.25" font-size="10.80" textLength="46.60" lengthAdjust="spacingAndGlyphs">measured</text>
<text x="94.46" y="85.25" font-size="10.80" textLength="12.84" lengthAdjust="spacingAndGlyphs">for</text>
<text x="111.90" y="85.25" font-size="10.80" textLength="10.62" lengthAdjust="spacingAndGlyphs">Al</text>
<text x="123.24" y="86.85" font-size="7.60" textLength="5.24" lengthAdjust="spacingAndGlyphs">2</text>
<text x="128.81" y="85.25" font-size="10.80" textLength="8.57" lengthAdjust="spacingAndGlyphs">O</text>
<text x="137.26" y="87.15" font-size="7.60" textLength="5.69" lengthAdjust="spacingAndGlyphs">3</text>
<text x="43.34" y="287.00" font-size="10.80" textLength="46.60" lengthAdjust="spacingAndGlyphs">measured</text>
<text x="94.56" y="287.00" font-size="10.80" textLength="12.84" lengthAdjust="spacingAndGlyphs">for</text>
<text x="112.00" y="287.00" font-size="10.80" textLength="10.62" lengthAdjust="spacingAndGlyphs">Al</text>
<text x="123.34" y="288.60" font-size="7.60" textLength="5.24" lengthAdjust="spacingAndGlyphs">2</text>
<text x="128.91" y="287.00" font-size="10.80" textLength="8.57" lengthAdjust="spacingAndGlyphs">O</text>
<text x="137.36" y="288.90" font-size="7.60" textLength="5.69" lengthAdjust="spacingAndGlyphs">3</text>
<rect x="271.3" y="159.2" width="31.2" height="8.9" fill="#fff"/>
<text x="262.94" y="157.50" font-size="10.80" textLength="46.70" lengthAdjust="spacingAndGlyphs">measured</text>
<text x="271.76" y="167.70" font-size="10.80" textLength="12.94" lengthAdjust="spacingAndGlyphs">for</text>
<text x="287.86" y="167.70" font-size="10.80" textLength="14.03" lengthAdjust="spacingAndGlyphs">SS</text>
<rect x="271.3" y="238.0" width="31.2" height="8.9" fill="#fff"/>
<text x="262.94" y="235.70" font-size="10.80" textLength="46.70" lengthAdjust="spacingAndGlyphs">measured</text>
<text x="271.76" y="246.40" font-size="10.80" textLength="12.94" lengthAdjust="spacingAndGlyphs">for</text>
<text x="287.86" y="246.40" font-size="10.80" textLength="14.03" lengthAdjust="spacingAndGlyphs">SS</text>
<g transform="translate(9.35,177.10) rotate(-90)" style="stroke-width:0.04px">
<text x="0.00" y="0.00" font-size="10.80" textLength="40.25" lengthAdjust="spacingAndGlyphs">bimodal</text>
<text x="45.21" y="0.00" font-size="10.80" textLength="22.19" lengthAdjust="spacingAndGlyphs">peak</text>
<text x="71.58" y="0.00" font-size="10.80" textLength="52.01" lengthAdjust="spacingAndGlyphs">separation</text>
<text x="128.19" y="0.00" font-size="10.80" textLength="8.61" lengthAdjust="spacingAndGlyphs">&#916;</text>
<text x="137.67" y="0.00" font-size="10.80" textLength="8.66" lengthAdjust="spacingAndGlyphs" font-style="italic">E</text>
<text x="150.97" y="0.00" font-size="10.80" textLength="8.60" lengthAdjust="spacingAndGlyphs">in</text>
<text x="163.32" y="0.00" font-size="10.80" textLength="14.42" lengthAdjust="spacingAndGlyphs">eV</text>
</g>
<g transform="translate(9.50,320.40) rotate(-90)" style="stroke-width:0.04px">
<text x="-0.43" y="0.00" font-size="10.80" textLength="20.52" lengthAdjust="spacingAndGlyphs">avg.</text>
<text x="25.48" y="0.00" font-size="10.80" textLength="32.28" lengthAdjust="spacingAndGlyphs">sheath</text>
<text x="62.09" y="0.00" font-size="10.80" textLength="19.76" lengthAdjust="spacingAndGlyphs">pot.</text>
<text x="87.52" y="0.00" font-size="10.80" textLength="6.87" lengthAdjust="spacingAndGlyphs">&#934;</text>
<text x="95.33" y="1.60" font-size="7.60" textLength="3.49" lengthAdjust="spacingAndGlyphs">s</text>
<text x="104.47" y="0.00" font-size="10.80" textLength="8.49" lengthAdjust="spacingAndGlyphs">in</text>
<text x="117.37" y="0.00" font-size="10.80" textLength="8.05" lengthAdjust="spacingAndGlyphs">V</text>
</g>
<line x1="0.8" y1="225.10" x2="0.8" y2="234.00" stroke="#222" stroke-width="0.9"/>
<text x="167.75" y="370.60" font-size="10.80" textLength="5.35" lengthAdjust="spacingAndGlyphs" font-style="italic">&#947;</text>
<text x="173.26" y="372.50" font-size="7.60" textLength="11.04" lengthAdjust="spacingAndGlyphs" style="stroke-width:0" font-weight="bold">eff</text>
<rect x="43.6" y="13.45" width="184.0" height="48.2" fill="#fff" stroke="#111" stroke-width="1.05"/>
<line x1="46.60" y1="21.50" x2="70.60" y2="21.50" stroke="#2d5fab" stroke-width="2.00"/>
<path d="M54.60 17.50L62.60 25.50M54.60 25.50L62.60 17.50" stroke="#2d5fab" stroke-width="1.50" fill="none"/>
<text x="77.71" y="25.85" font-size="10.80" textLength="5.65" lengthAdjust="spacingAndGlyphs" font-style="italic">r</text>
<text x="83.29" y="27.20" font-size="7.60" textLength="10.22" lengthAdjust="spacingAndGlyphs" style="stroke-width:0" font-weight="bold">eff</text>
<text x="97.19" y="25.55" font-size="11.40" textLength="9.21" lengthAdjust="spacingAndGlyphs">=</text>
<text x="109.57" y="25.40" font-size="11.40" textLength="14.16" lengthAdjust="spacingAndGlyphs">0.0</text>
<line x1="46.60" y1="36.65" x2="70.60" y2="36.65" stroke="#bc4418" stroke-width="2.00"/>
<path d="M54.60 32.65L62.60 40.65M54.60 40.65L62.60 32.65" stroke="#bc4418" stroke-width="1.50" fill="none"/>
<text x="77.71" y="41.00" font-size="10.80" textLength="5.65" lengthAdjust="spacingAndGlyphs" font-style="italic">r</text>
<text x="83.29" y="42.35" font-size="7.60" textLength="10.22" lengthAdjust="spacingAndGlyphs" style="stroke-width:0" font-weight="bold">eff</text>
<text x="97.19" y="40.70" font-size="11.40" textLength="9.21" lengthAdjust="spacingAndGlyphs">=</text>
<text x="109.56" y="40.55" font-size="11.40" textLength="14.37" lengthAdjust="spacingAndGlyphs">0.2</text>
<line x1="46.60" y1="51.85" x2="70.60" y2="51.85" stroke="#d9a423" stroke-width="2.00"/>
<path d="M54.60 47.85L62.60 55.85M54.60 55.85L62.60 47.85" stroke="#d9a423" stroke-width="1.50" fill="none"/>
<text x="77.71" y="56.20" font-size="10.80" textLength="5.65" lengthAdjust="spacingAndGlyphs" font-style="italic">r</text>
<text x="83.29" y="57.55" font-size="7.60" textLength="10.22" lengthAdjust="spacingAndGlyphs" style="stroke-width:0" font-weight="bold">eff</text>
<text x="97.19" y="55.90" font-size="11.40" textLength="9.21" lengthAdjust="spacingAndGlyphs">=</text>
<text x="109.57" y="55.75" font-size="11.40" textLength="14.17" lengthAdjust="spacingAndGlyphs">0.5</text>
<line x1="145.10" y1="21.50" x2="169.10" y2="21.50" stroke="#611f87" stroke-width="2.00"/>
<path d="M153.10 17.50L161.10 25.50M153.10 25.50L161.10 17.50" stroke="#611f87" stroke-width="1.50" fill="none"/>
<text x="176.61" y="25.85" font-size="10.80" textLength="5.65" lengthAdjust="spacingAndGlyphs" font-style="italic">r</text>
<text x="182.19" y="27.20" font-size="7.60" textLength="10.22" lengthAdjust="spacingAndGlyphs" style="stroke-width:0" font-weight="bold">eff</text>
<text x="196.09" y="25.55" font-size="11.40" textLength="9.21" lengthAdjust="spacingAndGlyphs">=</text>
<text x="208.47" y="25.40" font-size="11.40" textLength="14.05" lengthAdjust="spacingAndGlyphs">0.7</text>
<line x1="145.10" y1="36.65" x2="169.10" y2="36.65" stroke="#6ca034" stroke-width="2.00"/>
<path d="M153.10 32.65L161.10 40.65M153.10 40.65L161.10 32.65" stroke="#6ca034" stroke-width="1.50" fill="none"/>
<text x="176.61" y="41.00" font-size="10.80" textLength="5.65" lengthAdjust="spacingAndGlyphs" font-style="italic">r</text>
<text x="182.19" y="42.35" font-size="7.60" textLength="10.22" lengthAdjust="spacingAndGlyphs" style="stroke-width:0" font-weight="bold">eff</text>
<text x="196.09" y="40.70" font-size="11.40" textLength="9.21" lengthAdjust="spacingAndGlyphs">=</text>
<text x="208.47" y="40.55" font-size="11.40" textLength="14.16" lengthAdjust="spacingAndGlyphs">0.8</text>
<line x1="145.10" y1="51.85" x2="169.10" y2="51.85" stroke="#5fa9e0" stroke-width="2.00"/>
<path d="M153.10 47.85L161.10 55.85M153.10 55.85L161.10 47.85" stroke="#5fa9e0" stroke-width="1.50" fill="none"/>
<text x="176.61" y="56.20" font-size="10.80" textLength="5.65" lengthAdjust="spacingAndGlyphs" font-style="italic">r</text>
<text x="182.19" y="57.55" font-size="7.60" textLength="10.22" lengthAdjust="spacingAndGlyphs" style="stroke-width:0" font-weight="bold">eff</text>
<text x="196.09" y="55.90" font-size="11.40" textLength="9.21" lengthAdjust="spacingAndGlyphs">=</text>
<text x="208.47" y="55.75" font-size="11.40" textLength="14.20" lengthAdjust="spacingAndGlyphs">0.9</text>
</svg></body></html>
